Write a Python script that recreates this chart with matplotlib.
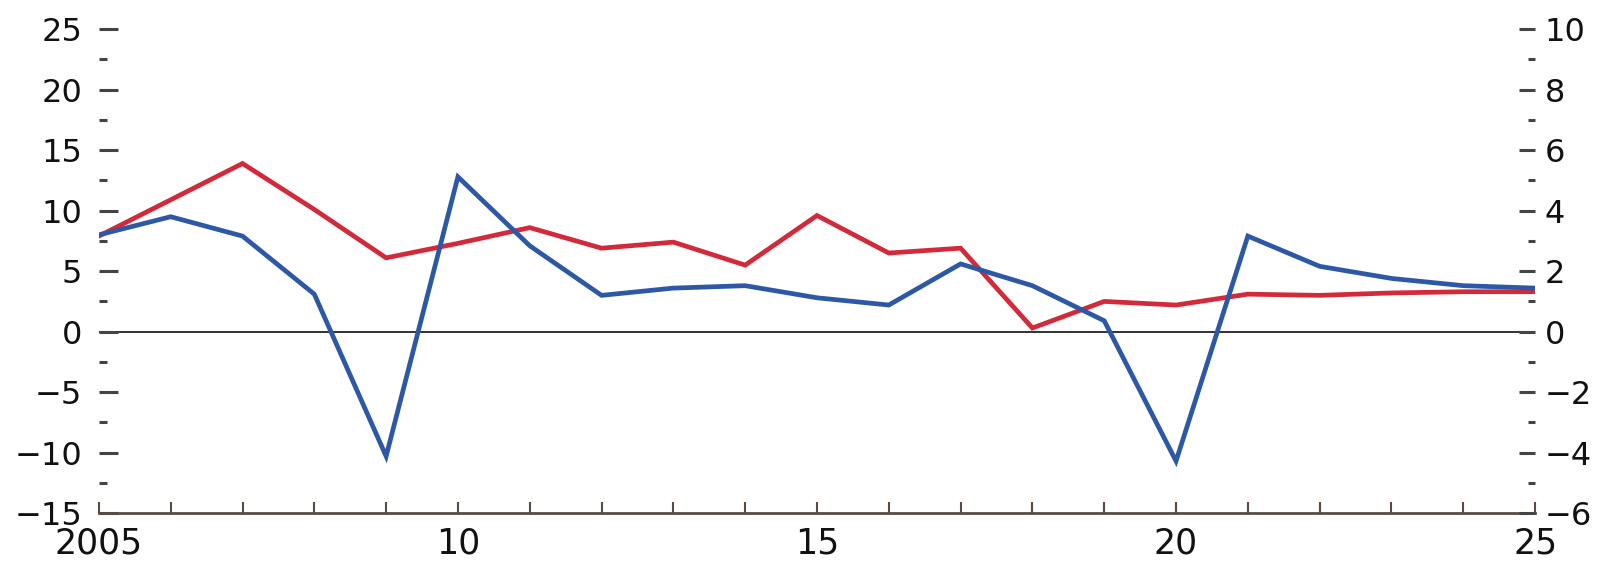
import matplotlib
matplotlib.use('Agg')
import matplotlib.pyplot as plt
from matplotlib.ticker import MultipleLocator, FixedLocator

# years on the x axis
years = list(range(2005, 2026))

# red line, left axis units
red_vals = [7.9, 10.9, 13.9, 10.1, 6.1, 7.3, 8.6, 6.9, 7.4, 5.5, 9.6,
            6.5, 6.9, 0.3, 2.5, 2.2, 3.1, 3.0, 3.2, 3.3, 3.3]

# blue line, right axis units
blue_vals = [3.2, 3.8, 3.16, 1.24, -4.12, 5.12, 2.84, 1.2, 1.44, 1.52, 1.12,
             0.88, 2.24, 1.52, 0.36, -4.28, 3.16, 2.16, 1.76, 1.52, 1.44]

x_ticks = [2005, 2010, 2015, 2020, 2025]
x_labels = ['2005', '10', '15', '20', '25']

plt.rcParams['font.family'] = ['DejaVu Sans']

fig = plt.figure(figsize=(16.21, 5.62), dpi=100)
ax = fig.add_axes([0.061, 0.087, 0.886, 0.861])
ax2 = ax.twinx()

ax.plot(years, red_vals, color='#d22a3a', lw=3.4, solid_joinstyle='miter', zorder=3)
ax2.plot(years, blue_vals, color='#2d58a6', lw=3.4, solid_joinstyle='miter', zorder=3)
ax.axhline(0, color='#222222', lw=1.3, zorder=1)

ax.set_xlim(2005, 2025)
ax.set_ylim(-15, 25)
ax2.set_ylim(-6, 10)

for a in (ax, ax2):
    for s in ('top', 'left', 'right'):
        a.spines[s].set_visible(False)
ax2.spines['bottom'].set_visible(False)
ax.spines['bottom'].set_color('#5b4a42')
ax.spines['bottom'].set_linewidth(2)

# x axis
ax.xaxis.set_major_locator(FixedLocator(x_ticks))
ax.set_xticklabels(x_labels)
ax.xaxis.set_minor_locator(MultipleLocator(1))
ax.tick_params(axis='x', which='both', direction='in', length=8, width=1.5,
               color='#5b4a42', pad=10, labelsize=25)

# left axis
ax.yaxis.set_major_locator(MultipleLocator(5))
ax.yaxis.set_minor_locator(MultipleLocator(2.5))
ax.tick_params(axis='y', which='major', direction='in', length=13.5, width=2.2,
               color='#444444', pad=12, labelsize=23)
ax.tick_params(axis='y', which='minor', direction='in', length=6, width=2.2,
               color='#444444')

# right axis
ax2.yaxis.set_major_locator(MultipleLocator(2))
ax2.yaxis.set_minor_locator(MultipleLocator(1))
ax2.tick_params(axis='y', which='major', direction='in', length=11.5, width=2.2,
                color='#444444', pad=7, labelsize=23)
ax2.tick_params(axis='y', which='minor', direction='in', length=5, width=2.2,
                color='#444444')

for lab in ax.get_yticklabels() + ax2.get_yticklabels() + ax.get_xticklabels():
    lab.set_color('#111111')

fig.savefig('out.png', dpi=100, facecolor='white')
